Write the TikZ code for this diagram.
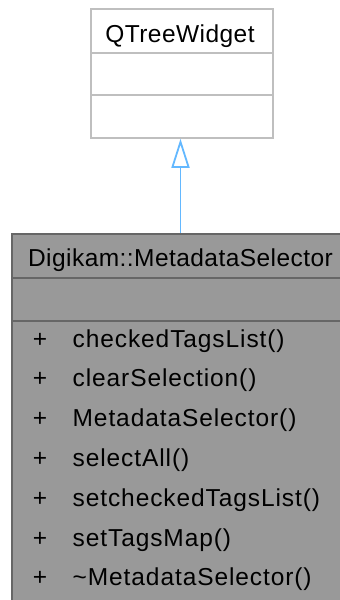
\documentclass[tikz,border=0pt]{standalone}
\usepackage{fontspec}
\setmainfont{Liberation Sans}
\usetikzlibrary{arrows.meta}
\definecolor{basebord}{HTML}{BFBFBF}
\definecolor{derfill}{HTML}{999999}
\definecolor{derbord}{HTML}{666666}
\definecolor{inhblue}{HTML}{63B8FF}
\newfontfamily\titlefont[LetterSpace=1.8]{Liberation Sans}
\newfontfamily\memberfont[LetterSpace=3.7]{Liberation Sans}
\tikzset{
  basebox/.style={draw=basebord, line width=1.8pt, fill=white, rectangle, inner sep=0pt, anchor=north west},
  derbox/.style={draw=derbord, line width=1.8pt, fill=derfill, rectangle, inner sep=0pt, anchor=north west},
  lbl/.style={font=\titlefont\fontsize{24.5}{28}\selectfont, inner sep=0pt, anchor=base, text=black},
  mlbl/.style={font=\memberfont\fontsize{24.5}{28}\selectfont, inner sep=0pt, anchor=base west, text=black},
  plbl/.style={font=\fontsize{24.5}{28}\selectfont, inner sep=0pt, anchor=base, text=black},
  inh/.style={draw=inhblue, line width=1.8pt, -{Triangle[open, length=29pt, width=18pt, line width=1.8pt]}}
}
\begin{document}
\begin{tikzpicture}[x=1pt,y=-1pt]
\useasboundingbox (0,0) rectangle (340,600);
\clip (0,0) rectangle (340,600);
% base class
\node[basebox, minimum width=182pt, minimum height=129pt] (base) at (90,8) {};
\draw[basebord, line width=1.8pt] (90,53) -- (272,53);
\draw[basebord, line width=1.8pt] (90,95) -- (272,95);
\node[lbl] (basename) at (180,42) {QTreeWidget};
% derived class
\node[derbox, minimum width=339pt, minimum height=390pt] (der) at (11,233) {};
\draw[derbord, line width=1.8pt] (11,278) -- (350,278);
\draw[derbord, line width=1.8pt] (11,321) -- (350,321);
\node[lbl] (dername) at (180.5,266) {Digikam::MetadataSelector};
\foreach \i/\m in {0/checkedTagsList(),1/clearSelection(),2/MetadataSelector(),3/selectAll(),4/setcheckedTagsList(),5/setTagsMap(),6/\textasciitilde MetadataSelector()}{
  \node[plbl] (p\i) at (40,347+39.8*\i) {+};
  \node[mlbl] (m\i) at (72.5,347+39.8*\i) {\m};
}
% inheritance
\draw[inh] (der.north -| 180.5,0) -- (base.south -| 180.5,0);
\end{tikzpicture}
\end{document}
